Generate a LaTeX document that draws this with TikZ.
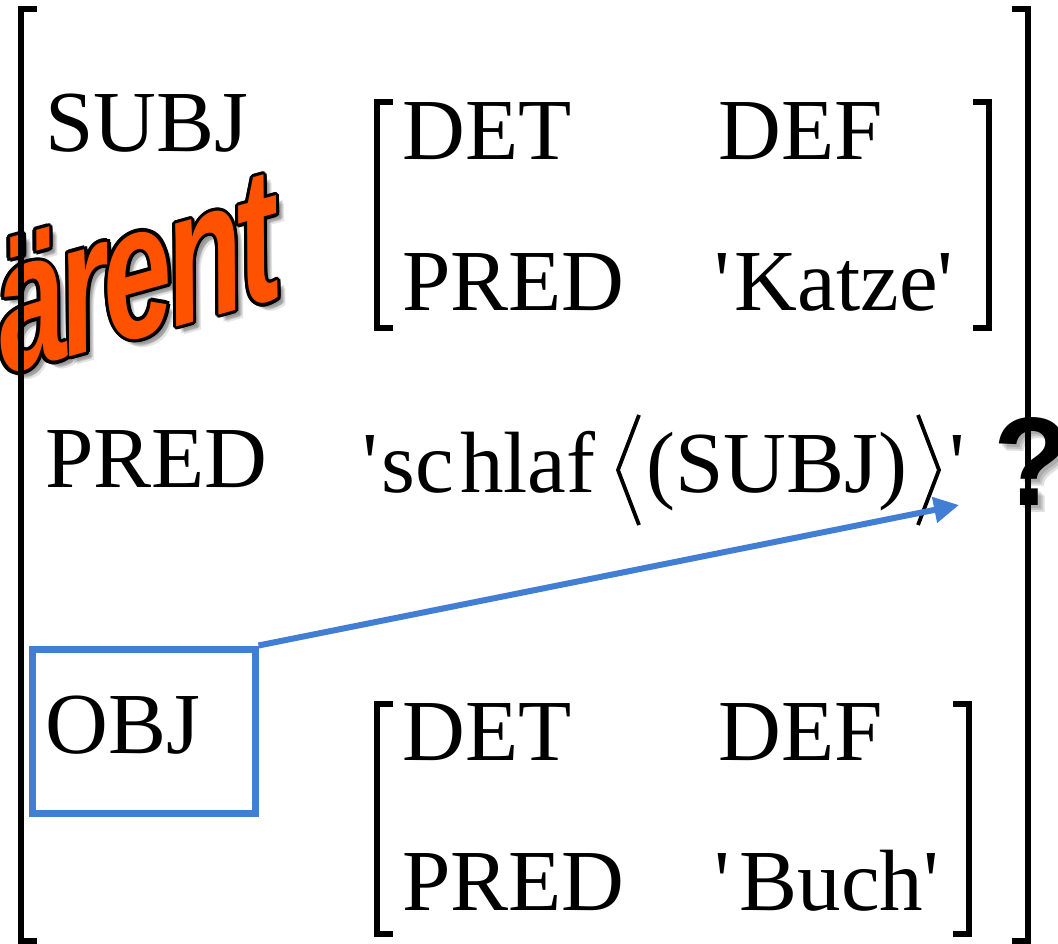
\documentclass[tikz,border=0pt]{standalone}
\usepackage{fontspec}
\usepackage{graphicx}
\newfontfamily\tms{Liberation Serif}
\newfontfamily\hv{Liberation Sans}
\usetikzlibrary{arrows.meta}

\definecolor{fsblue}{RGB}{67,126,213}
\definecolor{warnorange}{RGB}{255,82,0}

\newcommand{\warnword}{\scalebox{0.68}[1]{\hv\bfseries\itshape\fontsize{188}{190}\selectfont\addfontfeature{LetterSpace=-4}ärent}}

\tikzset{
  avm/.style={font=\tms\fontsize{87}{90}\selectfont, inner sep=0pt, anchor=base west},
  brk/.style={line width=6.5pt, line cap=butt, line join=miter},
  angl/.style={line width=3.8pt, line cap=butt, line join=miter},
  objframe/.style={draw=fsblue, line width=7pt, minimum width=223pt, minimum height=164pt, inner sep=0pt},
  conn/.style={draw=fsblue, line width=6pt, -{Triangle[length=25pt,width=25pt]}},
  wordlayer/.style={rotate=15.6, xslant=0.14, anchor=base west, inner sep=0pt},
  qmark/.style={font=\hv\bfseries\fontsize{126}{130}\selectfont, anchor=base west, inner sep=0pt}
}

\begin{document}
\begin{tikzpicture}[x=1pt,y=-1pt]
\useasboundingbox (0,0) rectangle (1058,944);
\clip (0,0) rectangle (1058,944);
\fill[white] (0,0) rectangle (1058,944);

% slanted warning word: soft shadow, black outline, orange fill
\foreach \dx/\dy in {4/4,6/6,8/8,5/7,7/5}
  \node[wordlayer, text=black, opacity=0.10] at (4+\dx,375+\dy) {\warnword};
\foreach \a in {0,22.5,...,337.5}
  \path (4,375) ++(\a:3.2) node[wordlayer, text=black] {\warnword};
\node[wordlayer, text=warnorange] (warn) at (4,375) {\warnword};

% question mark with soft shadow
\foreach \dx/\dy in {3/3,5/5,7/7}
  \node[qmark, text=black, opacity=0.12] at (993+\dx,505+\dy) {?};
\node[qmark] (qm) at (993,505) {?};

% outer brackets
\draw[brk] (37,9) -- (21,9) -- (21,941) -- (37,941);
\draw[brk] (1012,9) -- (1028,9) -- (1028,941) -- (1012,941);

% brackets of the SUBJ value
\draw[brk] (393,102) -- (377,102) -- (377,328) -- (393,328);
\draw[brk] (973,102) -- (989,102) -- (989,328) -- (973,328);

% brackets of the OBJ value
\draw[brk] (393,704) -- (377,704) -- (377,934) -- (393,934);
\draw[brk] (953,704) -- (969,704) -- (969,934) -- (953,934);

% attribute-value pairs
\node[avm] (subj) at (45,152) {SUBJ};
\node[avm] (det1) at (402,160) {DET};
\node[avm] (def1) at (718,160) {DEF};
\node[avm] (pred1) at (402,310) {PRED};
\node[avm] (katze) at (714,310) {'\kern5pt Katze'};

\node[avm] (pred) at (45,487) {PRED};
\node[avm] (schlaf) at (362,492) {'\kern4pt sc\kern6pt hlaf};
\draw[angl] (639,415) -- (618,470) -- (639,525);
\node[avm] (subjarg) at (646,492) {(SUBJ)};
\draw[angl] (918,415) -- (939,470) -- (918,525);
\node[avm] (closeq) at (949,492) {'};

\node[avm] (obj) at (45,753) {OBJ};
\node[avm] (det2) at (402,760) {DET};
\node[avm] (def2) at (718,760) {DEF};
\node[avm] (pred2) at (402,910) {PRED};
\node[avm] (buch) at (714,910) {'\kern10pt Buch'};

% OBJ highlight and arrow to the argument list
\node[objframe] (objbox) at (143.5,731) {};
\coordinate (argend) at (959,505);
\draw[conn] (objbox.north east) -- (argend);
\end{tikzpicture}
\end{document}
